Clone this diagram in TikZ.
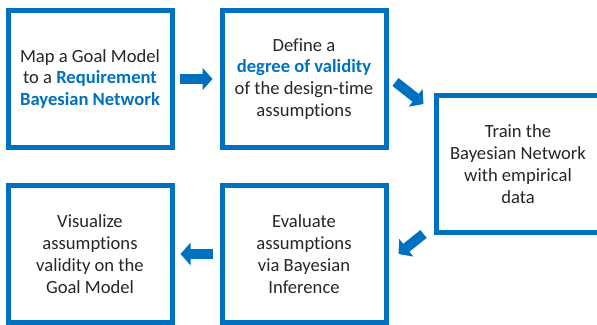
\documentclass[tikz,border=0pt]{standalone}
\usepackage{fontspec}
\setmainfont{Carlito}[Ligatures=NoCommon]
\usetikzlibrary{positioning, arrows.meta, calc}
\definecolor{stepblue}{HTML}{0070C0}
\definecolor{steptext}{HTML}{262626}
\newcommand{\hl}[1]{\textbf{\color{stepblue}#1}}

\begin{document}
\begin{tikzpicture}[
    stepbox/.style={rectangle, draw=stepblue, line width=5pt, minimum width=164pt, minimum height=137pt, inner sep=0pt, align=center, text=steptext, font=\fontsize{18.6}{21.8}\selectfont},
    blockarrow/.style={draw=stepblue, line width=10pt, -{Triangle[length=10pt, width=22pt]}},
]
\useasboundingbox (0,0) rectangle (597pt,324pt);
\node[stepbox](m1) at (90pt,245pt){Map a Goal Model\\to a \hl{Requirement}\\\hl{Bayesian Network}};
\node[stepbox](m2)[right = 45pt of m1]{Define a\\\hl{degree of validity}\\of the design-time\\assumptions};
\node[stepbox](m3)[right = 45pt of m2, yshift=-85pt]{Train the\\Bayesian Network\\with empirical\\data};
\node[stepbox](m4)[below = 33pt of m2]{Evaluate\\assumptions\\via Bayesian\\Inference};
\node[stepbox](m5)[below = 33pt of m1]{Visualize\\assumptions\\validity on the\\Goal Model};
\draw[blockarrow] ([xshift=5pt]m1.east) -- ([xshift=-7pt]m2.west);
\draw[blockarrow] ($(m2.east)+(7pt,-3pt)$) -- ($(m3.north west)+(-10pt,-11pt)$);
\draw[blockarrow] ($(m3.south west)+(-10pt,1pt)$) -- ($(m4.east)+(10pt,0pt)$);
\draw[blockarrow] ([xshift=-7pt]m4.west) -- ([xshift=6pt]m5.east);
\end{tikzpicture}
\end{document}
